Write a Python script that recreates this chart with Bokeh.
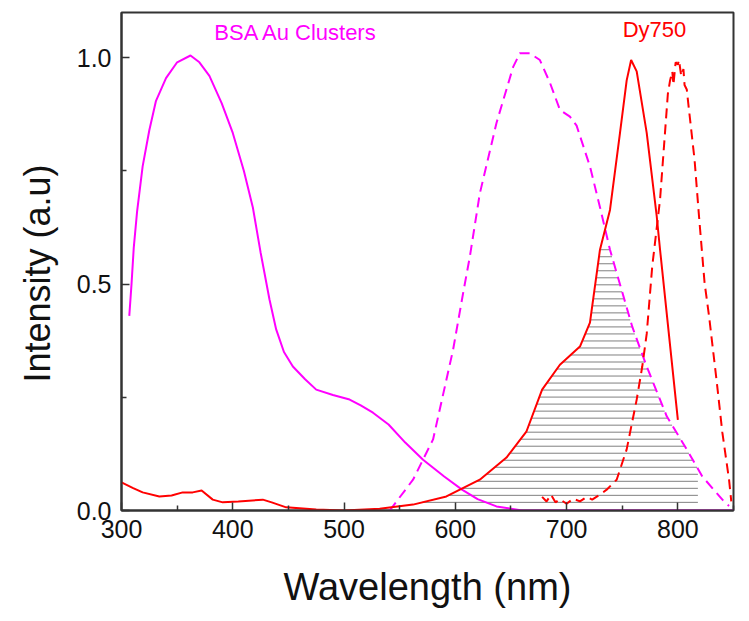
import numpy as np
from bokeh.plotting import figure
from bokeh.models import FixedTicker, PrintfTickFormatter, Label, Title
from bokeh.embed import file_html
from bokeh.resources import INLINE

# BSA Au Clusters absorption (solid magenta)
bsa_abs_wl = [307, 309, 311, 314, 319, 325, 331, 340, 350, 362, 370, 379, 390, 400, 410, 418,
              425, 433, 439, 446, 454, 465, 475, 490, 505, 515, 526, 540, 555, 571, 590, 606,
              620, 637, 660, 700, 850]
bsa_abs_val = [0.43, 0.50, 0.58, 0.66, 0.76, 0.84, 0.905, 0.955, 0.99, 1.005, 0.99, 0.96, 0.90,
               0.834, 0.75, 0.67, 0.57, 0.466, 0.40, 0.35, 0.318, 0.29, 0.267, 0.255, 0.245,
               0.232, 0.216, 0.19, 0.15, 0.112, 0.075, 0.046, 0.025, 0.009, 0.0, 0.0, 0.0]

# BSA Au Clusters emission (dashed magenta)
bsa_em_wl = [541, 562, 580, 598, 607, 613, 622, 637, 652, 658, 667, 676, 685, 694, 703, 709,
             721, 730, 739, 759, 772, 790, 808, 822, 840, 846]
bsa_em_val = [0.0, 0.068, 0.157, 0.355, 0.48, 0.56, 0.70, 0.856, 0.98, 1.01, 1.01, 0.995, 0.945,
              0.885, 0.87, 0.85, 0.76, 0.67, 0.576, 0.406, 0.318, 0.208, 0.135, 0.075, 0.024, 0.01]

# Dy750 absorption (solid red)
dy_abs_wl = [300, 310, 319, 334, 345, 355, 364, 372, 382, 391, 405, 427, 435, 448, 475, 500,
             532, 562, 592, 622, 646, 664, 678, 694, 712, 721, 730, 739, 748, 754, 758, 763,
             772, 781, 784, 800]
dy_abs_val = [0.062, 0.05, 0.04, 0.031, 0.033, 0.04, 0.04, 0.044, 0.024, 0.018, 0.02, 0.024,
              0.018, 0.007, 0.002, 0.0, 0.004, 0.013, 0.031, 0.068, 0.117, 0.175, 0.267, 0.322,
              0.362, 0.415, 0.576, 0.664, 0.834, 0.95, 0.995, 0.97, 0.834, 0.65, 0.576, 0.2]

# Dy750 emission (dashed red)
dy_em_wl = [678, 682, 686, 690, 694, 700, 706, 712, 718, 723, 730, 736, 745, 754, 763, 768, 772,
            777, 784, 788, 791, 793, 795, 796, 798, 800, 801, 803, 805, 806, 808, 810, 815, 819,
            824, 828, 835, 840, 846, 848]
dy_em_val = [0.03, 0.02, 0.035, 0.018, 0.025, 0.015, 0.026, 0.02, 0.03, 0.024, 0.035, 0.046,
             0.068, 0.135, 0.245, 0.318, 0.39, 0.54, 0.687, 0.82, 0.92, 0.95, 0.97, 0.94, 0.99,
             0.985, 0.995, 0.96, 0.975, 0.94, 0.93, 0.885, 0.775, 0.65, 0.503, 0.43, 0.283,
             0.172, 0.068, 0.02]

x_major = [300, 400, 500, 600, 700, 800]
x_minor = [350, 450, 550, 650, 750, 850]
y_major = [0.0, 0.5, 1.0]
y_minor = [0.25, 0.75]

MAG = "#ff00ff"
RED = "#ff0000"
FONT = "Liberation Sans"

p = figure(width=741, height=611, x_range=(300, 850), y_range=(0, 1.1),
           output_backend="svg", toolbar_location=None,
           min_border_left=121, min_border_top=12, min_border_right=8, min_border_bottom=101)
p.grid.visible = False
p.outline_line_color = "#333333"
p.outline_line_width = 2
p.background_fill_color = "white"
p.border_fill_color = "white"

# hatch lines in overlap region between Dy750 absorption and BSA emission
levels = np.arange(0.018, 0.59, 0.0155)
aw = np.array(dy_abs_wl, float); av = np.array(dy_abs_val, float)
ew = np.array(bsa_em_wl, float); ev = np.array(bsa_em_val, float)
rise = (aw >= 500) & (aw <= 758)
fall = (ew >= 667)
x0s, x1s, ys = [], [], []
for lv in levels:
    xl = np.interp(lv, av[rise], aw[rise])
    ef_w = ew[fall][::-1]; ef_v = ev[fall][::-1]
    xr = min(np.interp(lv, ef_v, ef_w), 818)
    if xr > xl:
        x0s.append(xl); x1s.append(xr); ys.append(lv)
p.segment(x0=x0s, y0=ys, x1=x1s, y1=ys, line_color="#808080", line_width=1)

p.line(bsa_abs_wl, bsa_abs_val, line_color=MAG, line_width=2)
p.line(bsa_em_wl, bsa_em_val, line_color=MAG, line_width=2, line_dash="10 6")
p.line(dy_abs_wl, dy_abs_val, line_color=RED, line_width=2)
p.line(dy_em_wl, dy_em_val, line_color=RED, line_width=2, line_dash="10 6")

p.add_layout(Label(x=457, y=1.055, text="BSA Au Clusters", text_color=MAG, text_font=FONT,
                   text_font_size="22px", text_align="center", text_baseline="middle"))
p.add_layout(Label(x=779, y=1.062, text="Dy750", text_color=RED, text_font=FONT,
                   text_font_size="22px", text_align="center", text_baseline="middle"))

# y axis title as a left-side title, shifted slightly downward
p.add_layout(Title(text="Intensity (a.u)", align="left", offset=128, standoff=27,
                   vertical_align="top",
                   text_color="#111111", text_font=FONT, text_font_size="36px",
                   text_font_style="normal"), "left")

p.xaxis.ticker = FixedTicker(ticks=x_major, minor_ticks=x_minor)
p.yaxis.ticker = FixedTicker(ticks=y_major, minor_ticks=y_minor)
p.yaxis.formatter = PrintfTickFormatter(format="%.1f")
for ax in (p.xaxis, p.yaxis):
    ax.axis_line_color = "#333333"
    ax.axis_line_width = 2
    ax.major_tick_line_color = "#333333"
    ax.minor_tick_line_color = "#333333"
    ax.major_tick_line_width = 1.5
    ax.minor_tick_line_width = 1.5
    ax.major_tick_in = 8
    ax.major_tick_out = 0
    ax.minor_tick_in = 5
    ax.minor_tick_out = 0
    ax.major_label_text_font = FONT
    ax.major_label_text_font_size = "25px"
    ax.major_label_text_color = "#111111"
    ax.axis_label_text_font = FONT
    ax.axis_label_text_font_style = "normal"
    ax.axis_label_text_color = "#111111"
p.xaxis.axis_label = "Wavelength (nm)"
p.xaxis.axis_label_text_font_size = "38px"
p.xaxis.major_label_standoff = 9
p.yaxis.major_label_standoff = 10
p.xaxis.axis_label_standoff = 25

open("out.html", "w").write(file_html(p, INLINE))
